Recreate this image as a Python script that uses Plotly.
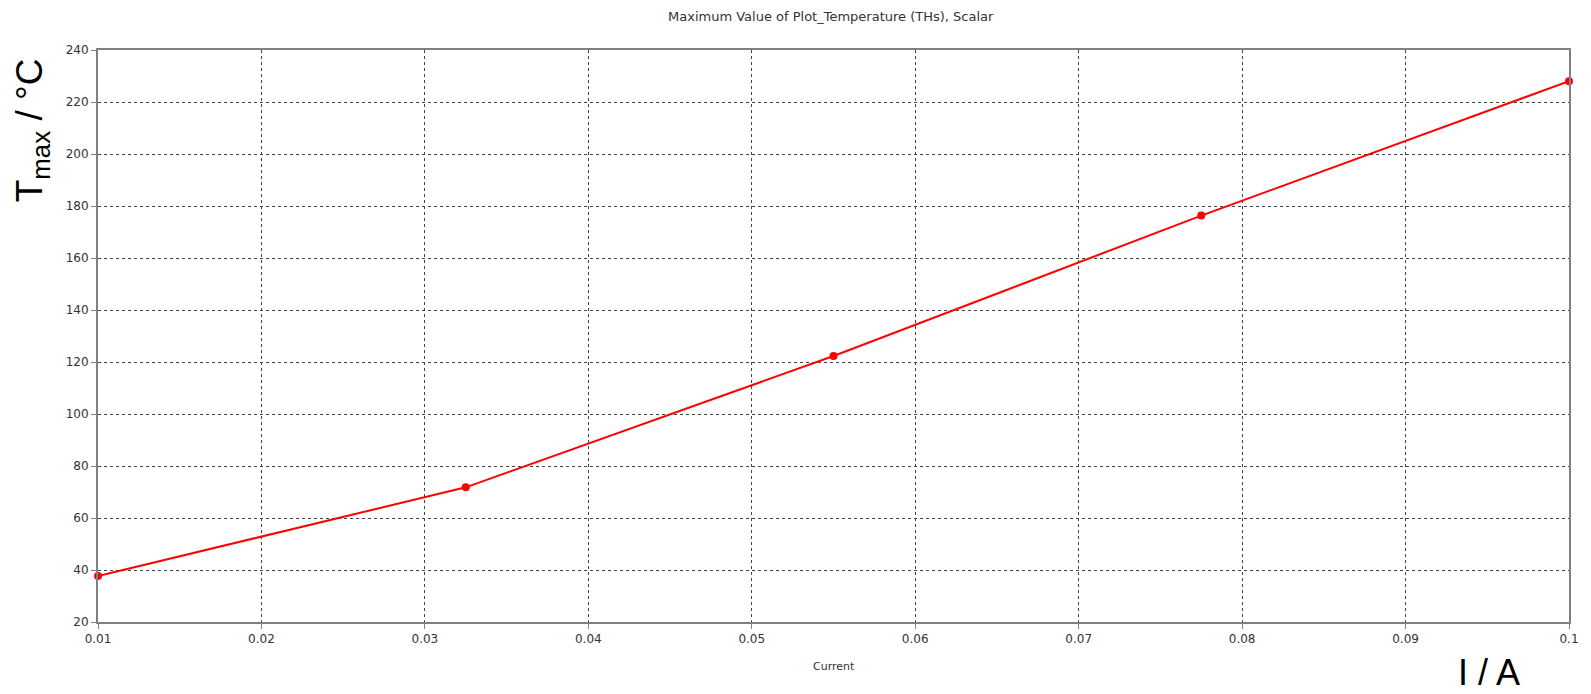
import plotly.graph_objects as go

current = [0.01, 0.0325, 0.055, 0.0775, 0.1]
tmax = [37.7, 71.8, 122.3, 176.3, 228.0]
x_ticks = [0.01, 0.02, 0.03, 0.04, 0.05, 0.06, 0.07, 0.08, 0.09, 0.1]
x_tick_labels = ["0.01", "0.02", "0.03", "0.04", "0.05", "0.06", "0.07", "0.08", "0.09", "0.1"]
y_ticks = [20, 40, 60, 80, 100, 120, 140, 160, 180, 200, 220, 240]

# The page body has an 8px margin, so the figure is placed at (8, 8).
OFF = 8
W, H = 1591 - OFF, 694 - OFF
L, R, T, B = 98 - OFF, 15, 50 - OFF, 72
PW, PH = W - L - R, H - T - B


def px(x):
    return (x - OFF - L) / PW


def py(y):
    return (H - B - (y - OFF)) / PH


fig = go.Figure()
fig.add_trace(go.Scatter(
    x=current, y=tmax, mode="lines+markers",
    line=dict(color="#ff0000", width=2),
    marker=dict(color="#ff0000", size=8),
    showlegend=False, cliponaxis=False,
))

font_small = dict(family="DejaVu Sans", size=12, color="#333333")

fig.update_layout(
    width=W, height=H,
    margin=dict(l=L, r=R, t=T, b=B),
    paper_bgcolor="white", plot_bgcolor="white",
    font=font_small,
    xaxis=dict(
        range=[0.01, 0.1], tickvals=x_ticks, ticktext=x_tick_labels,
        showgrid=True, gridcolor="#444444", gridwidth=1, griddash="3px,3px",
        showline=True, linecolor="#808080", linewidth=2, mirror=True,
        ticks="outside", ticklen=5, tickcolor="#808080",
        zeroline=False,
    ),
    yaxis=dict(
        range=[20, 240], tickvals=y_ticks,
        showgrid=True, gridcolor="#444444", gridwidth=1, griddash="3px,3px",
        showline=True, linecolor="#808080", linewidth=2, mirror=True,
        ticks="outside", ticklen=5, tickcolor="#808080",
        zeroline=False,
    ),
    annotations=[
        dict(text="Maximum Value of Plot_Temperature (THs), Scalar",
             x=px(834), y=py(17), xref="paper", yref="paper", showarrow=False,
             font=dict(family="DejaVu Sans", size=13, color="#333333"),
             xanchor="center", yanchor="middle"),
        dict(text="Current",
             x=px(837), y=py(666), xref="paper", yref="paper", showarrow=False,
             font=dict(family="DejaVu Sans", size=11, color="#333333"),
             xanchor="center", yanchor="middle"),
        dict(text="T<sub>max</sub> / °C", textangle=-90,
             x=px(32), y=py(130), xref="paper", yref="paper", showarrow=False,
             font=dict(family="Liberation Sans", size=37, color="#000000"),
             xanchor="center", yanchor="middle"),
        dict(text="I / A",
             x=px(1496), y=py(672), xref="paper", yref="paper", showarrow=False,
             font=dict(family="Liberation Sans", size=36, color="#000000"),
             xanchor="center", yanchor="middle"),
    ],
)

fig.write_html("out.html")
